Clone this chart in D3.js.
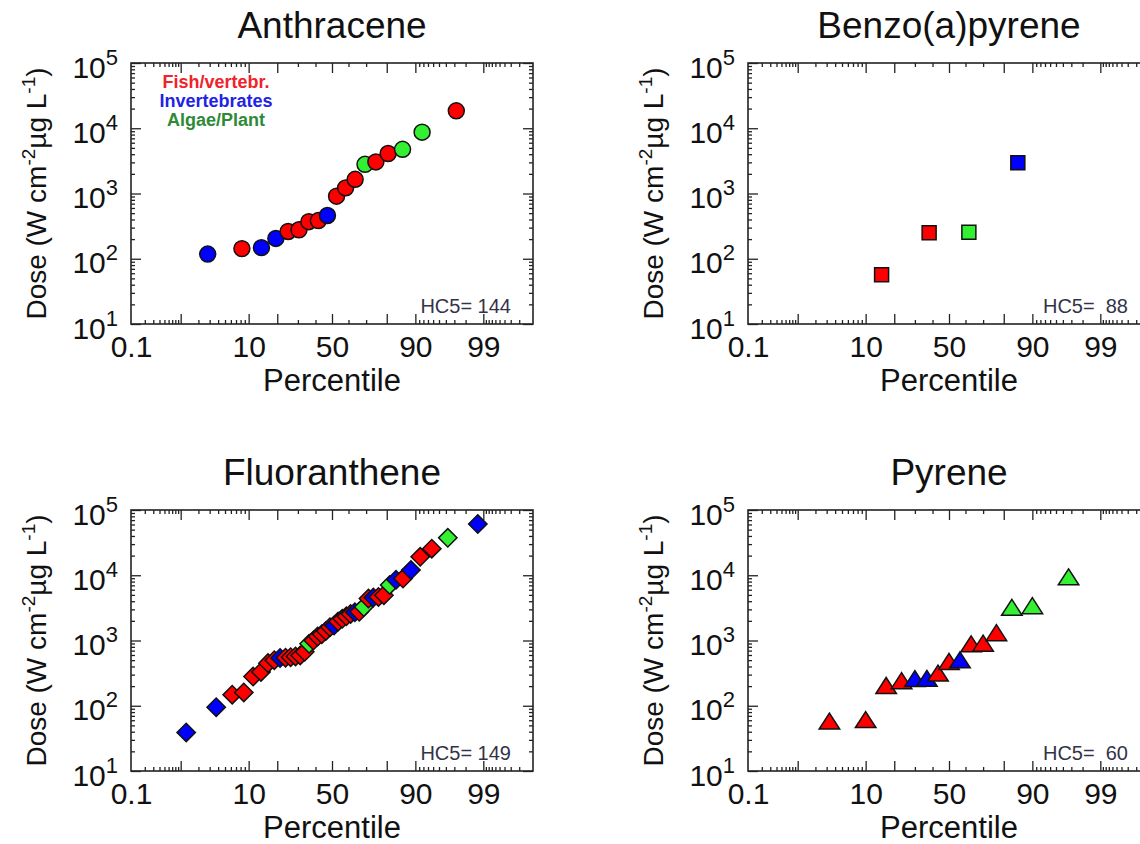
<!DOCTYPE html>
<html>
<head>
<meta charset="utf-8">
<script src="https://cdn.jsdelivr.net/npm/d3@7"></script>
<style>
body { margin: 0; background: #fff; }
svg { display: block; font-family: "Liberation Sans", Arial, sans-serif; }
</style>
</head>
<body>
<div id="chart"></div>
<script>
// ---- data: percentile, dose, taxon group ----
var anthPct   = [2.8, 8.3, 13.9, 19.4, 25, 30.6, 36.1, 41.7, 47.2, 52.8, 58.3, 63.9, 69.4, 75, 80.6, 86.1, 91.7, 97.2];
var anthDose  = [118, 143, 148, 205, 262, 278, 370, 385, 460, 910, 1220, 1650, 2800, 3050, 4100, 4750, 8700, 18500];
var anthGroup = ["inv", "fish", "inv", "inv", "fish", "fish", "fish", "fish", "inv", "fish", "fish", "fish", "alg", "fish", "fish", "alg", "alg", "fish"];

var bapPct   = [15, 38, 62, 85.5];
var bapDose  = [57, 250, 255, 2950];
var bapGroup = ["fish", "fish", "alg", "inv"];

var fluoPct = [1.25, 3.75, 6.25, 8.75, 11.25, 13.75, 16.25, 18.75, 21.25, 23.75,
               26.25, 28.75, 31.25, 33.75, 36.25, 38.75, 41.25, 43.75, 46.25, 48.75,
               51.25, 53.75, 56.25, 58.75, 61.25, 63.75, 66.25, 68.75, 71.25, 73.75,
               76.25, 78.75, 81.25, 83.75, 86.25, 88.75, 91.25, 93.75, 96.25, 98.75];
var fluoDose = [39, 95, 148, 160, 280, 330, 450, 500, 540, 545,
                555, 570, 590, 670, 890, 1000, 1150, 1250, 1400, 1600,
                1700, 1950, 2150, 2350, 2550, 2700, 2750, 3250, 4400, 4550,
                4650, 4950, 7100, 8500, 8900, 12000, 19200, 25500, 37500, 61000];
var fluoGroup = ["inv", "inv", "fish", "fish", "fish", "fish", "fish", "fish", "inv", "fish",
                 "fish", "fish", "fish", "fish", "alg", "fish", "fish", "fish", "fish", "fish",
                 "inv", "fish", "fish", "fish", "fish", "inv", "fish", "alg", "fish", "inv",
                 "fish", "fish", "alg", "inv", "fish", "inv", "fish", "fish", "alg", "inv"];

var pyrPct   = [3.3, 10, 16.7, 23.3, 30, 36.7, 43.3, 50, 56.7, 63.3, 70, 76.7, 83.3, 90, 96.7];
var pyrDose  = [57, 60, 200, 237, 255, 258, 310, 467, 495, 870, 890, 1290, 3160, 3340, 9250];
var pyrGroup = ["fish", "fish", "fish", "fish", "inv", "inv", "fish", "fish", "inv", "fish", "fish", "fish", "alg", "alg", "alg"];

// ---- axis ticks ----
var xLabelTicks = [0.1, 10, 50, 90, 99];
var xMajorTicks = [1, 10, 20, 50, 80, 90, 99];
var xMinorTicks = [0.2, 0.3, 0.4, 0.5, 0.6, 0.7, 0.8, 0.9, 2, 3, 4, 5, 6, 7, 8, 9,
                   30, 40, 60, 70, 91, 92, 93, 94, 95, 96, 97, 98,
                   99.1, 99.2, 99.3, 99.4, 99.5, 99.6, 99.7, 99.8];
var yDecades = [10, 100, 1000, 10000, 100000];
var yExponents = ["1", "2", "3", "4", "5"];

var legendNames = ["Fish/vertebr.", "Invertebrates", "Algae/Plant"];
var legendColors = ["#f0222a", "#2222e6", "#2e8a36"];

var fillColor = { fish: "#ff0000", inv: "#0000ff", alg: "#33f033" };

// inverse normal cdf (Acklam) for the probability axis
function probit(p) {
    var a = [-3.969683028665376e+01, 2.209460984245205e+02, -2.759285104469687e+02, 1.383577518672690e+02, -3.066479806614716e+01, 2.506628277459239e+00],
        b = [-5.447609879822406e+01, 1.615858368580409e+02, -1.556989798598866e+02, 6.680131188771972e+01, -1.328068155288572e+01],
        c = [-7.784894002430293e-03, -3.223964580411365e-01, -2.400758277161838e+00, -2.549732539343734e+00, 4.374664141464968e+00, 2.938163982698783e+00],
        d = [7.784695709041462e-03, 3.224671290700398e-01, 2.445134137142996e+00, 3.754408661907416e+00],
        pl = 0.02425, q, r;
    if (p < pl) {
        q = Math.sqrt(-2 * Math.log(p));
        return (((((c[0]*q+c[1])*q+c[2])*q+c[3])*q+c[4])*q+c[5]) / ((((d[0]*q+d[1])*q+d[2])*q+d[3])*q+1);
    }
    if (p > 1 - pl) {
        q = Math.sqrt(-2 * Math.log(1 - p));
        return -(((((c[0]*q+c[1])*q+c[2])*q+c[3])*q+c[4])*q+c[5]) / ((((d[0]*q+d[1])*q+d[2])*q+d[3])*q+1);
    }
    q = p - 0.5; r = q * q;
    return (((((a[0]*r+a[1])*r+a[2])*r+a[3])*r+a[4])*r+a[5])*q / (((((b[0]*r+b[1])*r+b[2])*r+b[3])*r+b[4])*r+1);
}
function pz(pct) { return probit(pct / 100); }

// slightly flat triangle, like the original markers
var flatTriangle = {
    draw: function(ctx, size) {
        var s = Math.sqrt(size);
        ctx.moveTo(0, -0.42 * s);
        ctx.lineTo(0.5 * s, 0.36 * s);
        ctx.lineTo(-0.5 * s, 0.36 * s);
        ctx.closePath();
    }
};

var panels = [
    { title: "Anthracene", pct: anthPct, dose: anthDose, group: anthGroup, hc5: "HC5= 144",
      symbol: d3.symbolCircle, size: 200, rotate: 0, x0: 131, y0: 63, legend: true },
    { title: "Benzo(a)pyrene", pct: bapPct, dose: bapDose, group: bapGroup, hc5: "HC5=  88",
      symbol: d3.symbolSquare, size: 196, rotate: 0, x0: 748, y0: 63 },
    { title: "Fluoranthene", pct: fluoPct, dose: fluoDose, group: fluoGroup, hc5: "HC5= 149",
      symbol: d3.symbolSquare, size: 169, rotate: 45, x0: 131, y0: 510 },
    { title: "Pyrene", pct: pyrPct, dose: pyrDose, group: pyrGroup, hc5: "HC5=  60",
      symbol: flatTriangle, size: 420, rotate: 0, x0: 748, y0: 510 }
];

var W = 1140, H = 844, boxW = 402, boxH = 261;

var svg = d3.select("#chart").append("svg")
    .attr("width", W)
    .attr("height", H);

panels.forEach(function(p) {
    var x0 = p.x0, x1 = p.x0 + boxW, y0 = p.y0, y1 = p.y0 + boxH;

    var z = d3.scaleLinear().domain([pz(0.1), pz(99.9)]).range([x0, x1]);
    var y = d3.scaleLog().domain([10, 100000]).range([y1, y0]);

    var yMinor = [];
    yDecades.slice(0, 4).forEach(function(dec) {
        for (var k = 2; k < 10; k++) yMinor.push(dec * k);
    });

    var g = svg.append("g");

    // box ticks, pointing inwards
    function ticks(axisFn, scale, values, len, tx, ty) {
        var a = g.append("g")
            .attr("transform", "translate(" + tx + "," + ty + ")")
            .call(axisFn(scale).tickValues(values).tickSize(-len).tickFormat(""));
        a.select(".domain").remove();
        a.selectAll("line").attr("stroke", "#222").attr("stroke-width", 1.3);
    }
    var xMaj = xMajorTicks.map(pz), xMin = xMinorTicks.map(pz);
    ticks(d3.axisBottom, z, xMaj, 10, 0, y1);
    ticks(d3.axisBottom, z, xMin, 4, 0, y1);
    ticks(d3.axisTop, z, xMaj, 10, 0, y0);
    ticks(d3.axisTop, z, xMin, 4, 0, y0);
    ticks(d3.axisLeft, y, yDecades, 10, x0, 0);
    ticks(d3.axisLeft, y, yMinor, 4, x0, 0);
    ticks(d3.axisRight, y, yDecades, 10, x1, 0);
    ticks(d3.axisRight, y, yMinor, 4, x1, 0);

    g.append("rect")
        .attr("x", x0).attr("y", y0)
        .attr("width", boxW).attr("height", boxH)
        .attr("fill", "none")
        .attr("stroke", "#222")
        .attr("stroke-width", 1.6);

    // x tick labels
    var xl = g.append("g")
        .attr("transform", "translate(0," + y1 + ")")
        .call(d3.axisBottom(z).tickValues(xLabelTicks.map(pz)).tickSize(0).tickPadding(12)
            .tickFormat(function(d, i) { return String(xLabelTicks[i]); }));
    xl.select(".domain").remove();
    xl.selectAll("text").attr("font-size", 30).attr("font-family", null).attr("fill", "#111");

    // y tick labels 10^n
    var yl = g.append("g")
        .attr("transform", "translate(" + x0 + ",0)")
        .call(d3.axisLeft(y).tickValues(yDecades).tickSize(0).tickPadding(13).tickFormat(""));
    yl.select(".domain").remove();
    yl.selectAll(".tick text").each(function(d, i) {
        var t = d3.select(this).attr("dy", null).attr("y", 14).attr("fill", "#111");
        t.append("tspan").attr("font-size", 30).text("10");
        t.append("tspan").attr("font-size", 22).attr("dy", -13).text(yExponents[i]);
    });

    // titles
    g.append("text")
        .attr("x", (x0 + x1) / 2).attr("y", y0 - 25)
        .attr("text-anchor", "middle")
        .attr("font-size", 37)
        .attr("fill", "#111")
        .text(p.title);

    g.append("text")
        .attr("x", (x0 + x1) / 2).attr("y", y1 + 67)
        .attr("text-anchor", "middle")
        .attr("font-size", 31)
        .attr("fill", "#111")
        .text("Percentile");

    var yt = g.append("text")
        .attr("transform", "translate(" + (x0 - 85) + "," + ((y0 + y1) / 2) + ") rotate(-90)")
        .attr("text-anchor", "middle")
        .attr("font-size", 28)
        .attr("fill", "#111");
    yt.append("tspan").text("Dose (W cm");
    yt.append("tspan").attr("font-size", 19).attr("dy", -11).text("-2");
    yt.append("tspan").attr("dy", 11).text("\u00b5g L");
    yt.append("tspan").attr("font-size", 19).attr("dy", -11).text("-1");
    yt.append("tspan").attr("dy", 11).text(")");

    g.append("text")
        .attr("x", x1 - 22).attr("y", y1 - 11)
        .attr("text-anchor", "end")
        .attr("font-size", 20)
        .attr("fill", "#333348")
        .style("white-space", "pre")
        .text(p.hc5);

    if (p.legend) {
        legendNames.forEach(function(name, i) {
            g.append("text")
                .attr("x", x0 + 85).attr("y", y0 + 25 + i * 19)
                .attr("text-anchor", "middle")
                .attr("font-size", 18)
                .attr("font-weight", "bold")
                .attr("fill", legendColors[i])
                .text(name);
        });
    }

    // markers
    var sym = d3.symbol().type(p.symbol).size(p.size);
    g.selectAll(".pt")
        .data(p.pct.map(function(v, i) { return { x: v, y: p.dose[i], grp: p.group[i] }; }))
        .enter().append("path")
            .attr("class", "pt")
            .attr("transform", function(d) {
                return "translate(" + z(pz(d.x)) + "," + y(d.y) + ") rotate(" + p.rotate + ")";
            })
            .attr("d", sym)
            .attr("fill", function(d) { return fillColor[d.grp]; })
            .attr("stroke", "#111")
            .attr("stroke-width", 1.5);
});
</script>
</body>
</html>
